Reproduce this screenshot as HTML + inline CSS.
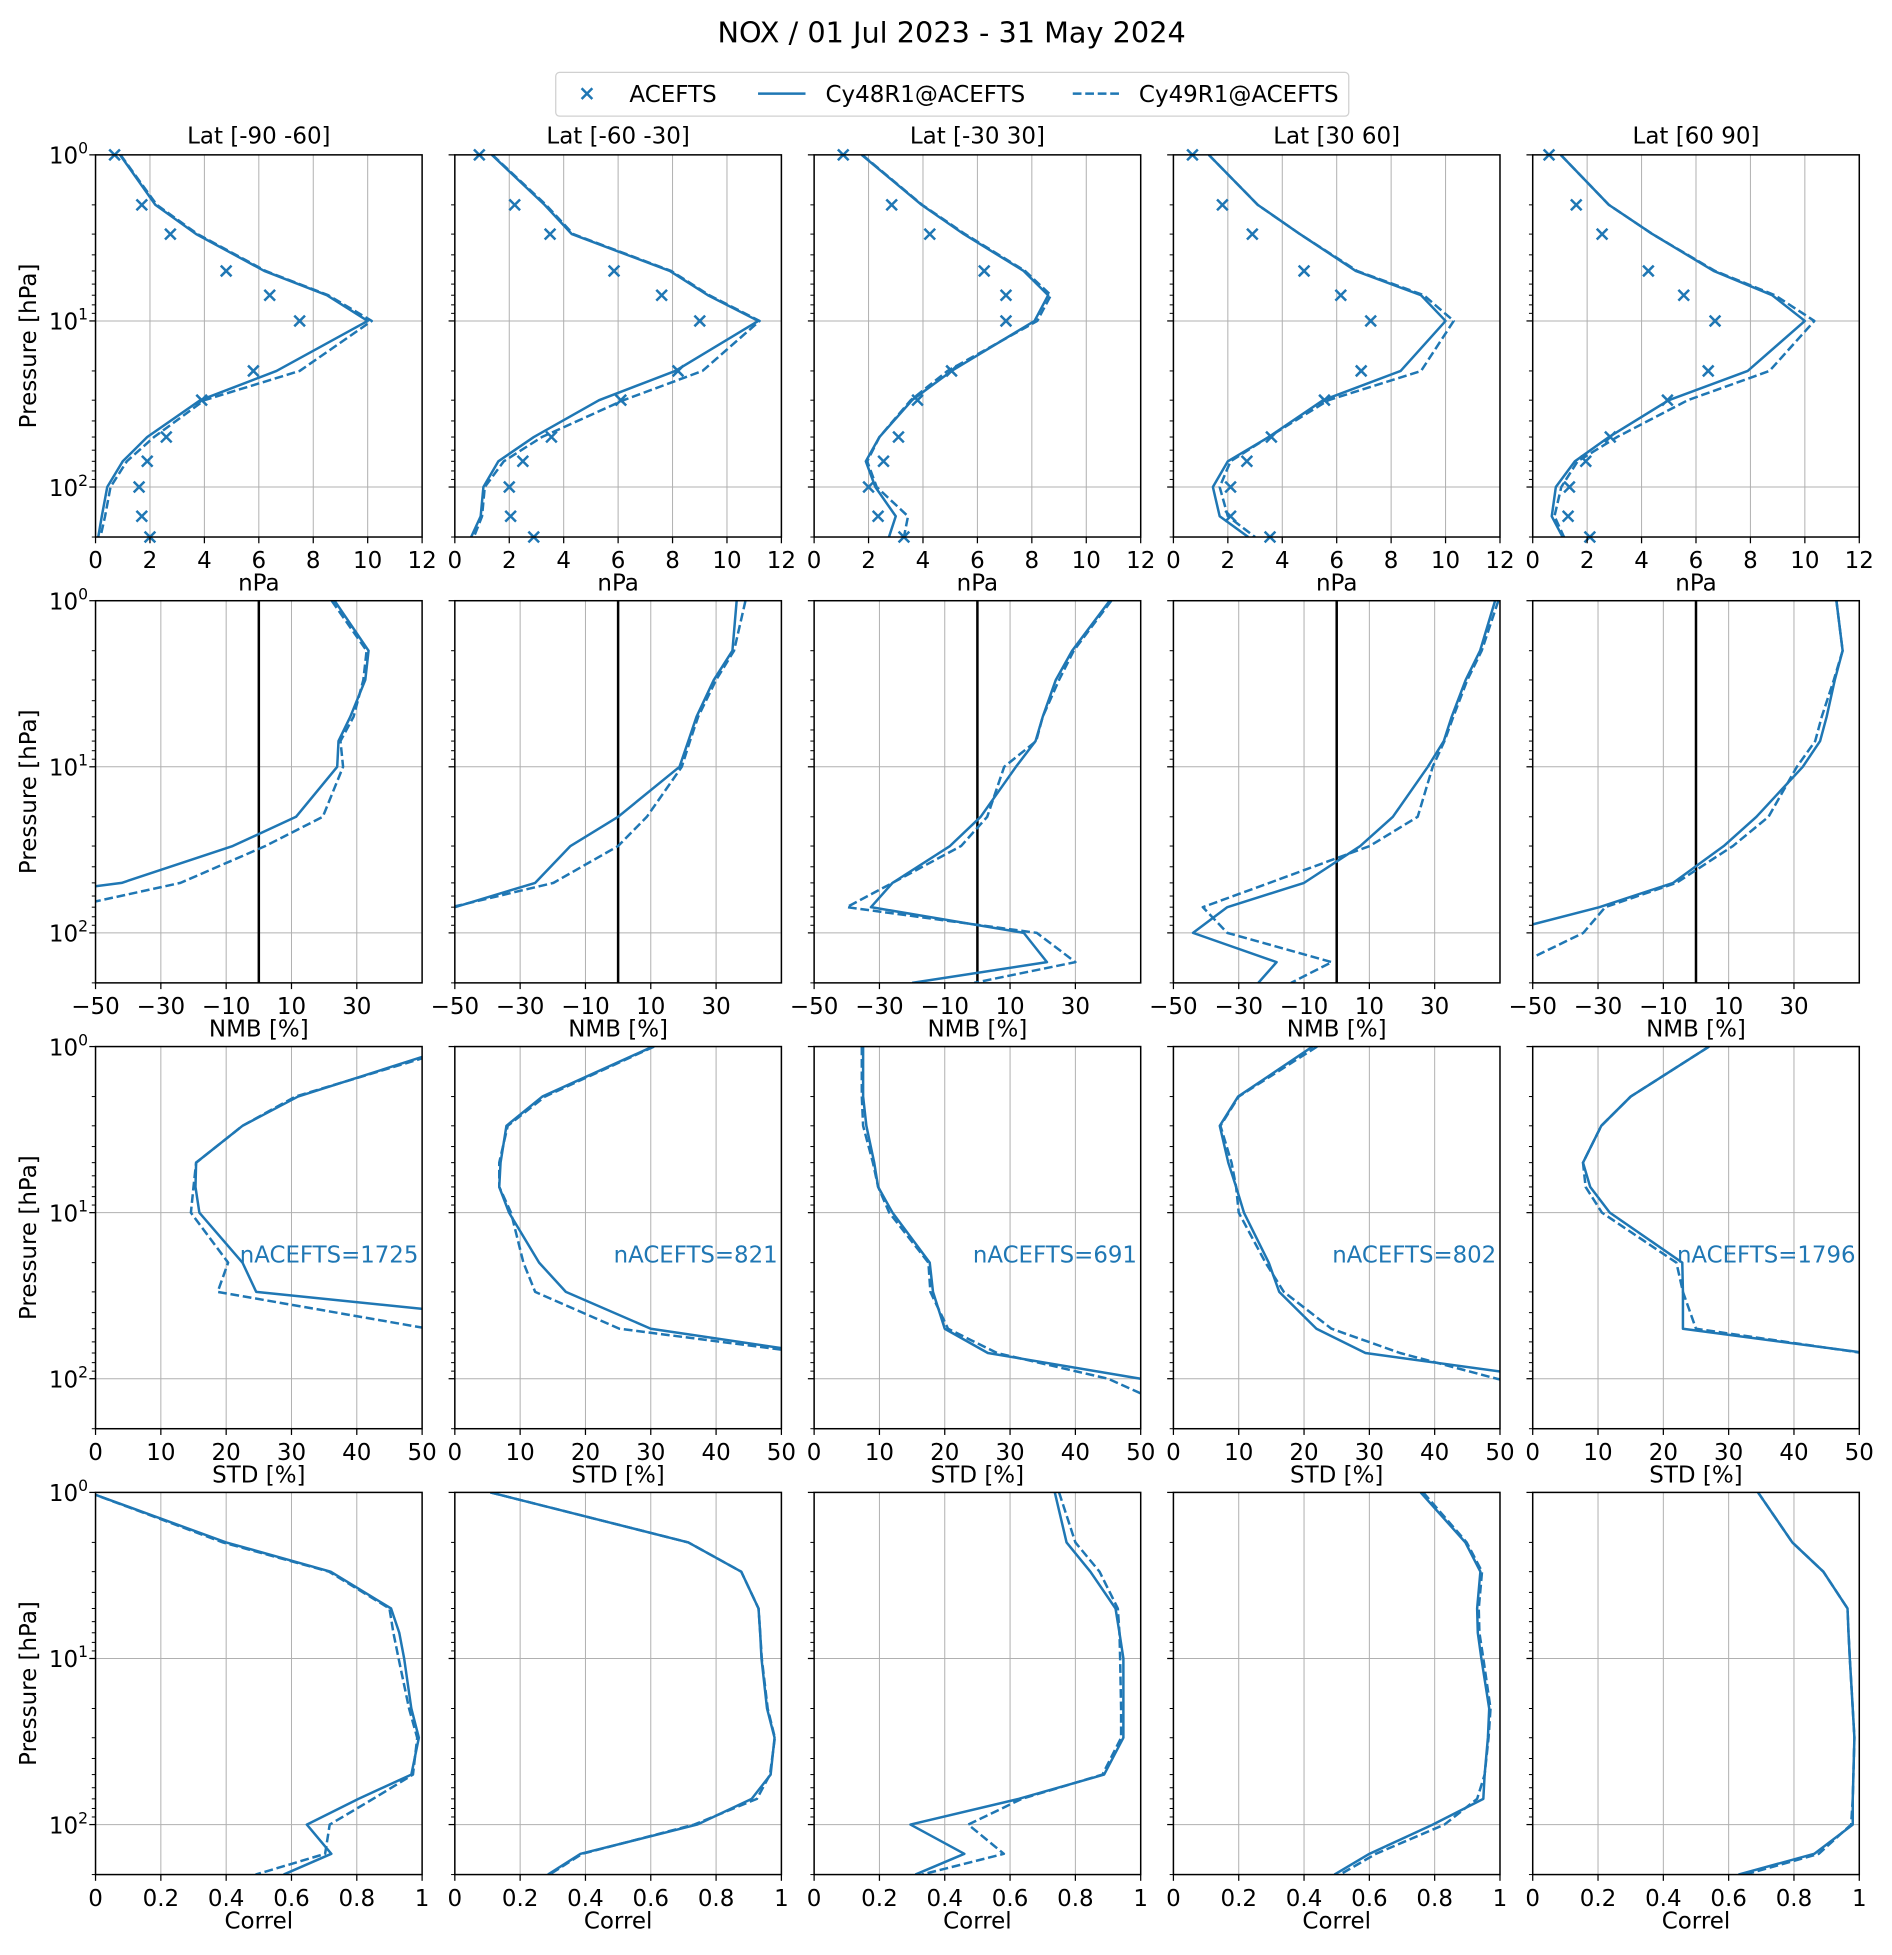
<!DOCTYPE html>
<html><head><meta charset="utf-8"><style>
html,body{margin:0;padding:0;background:#fff}
svg{display:block;font-family:"DejaVu Sans","Liberation Sans",sans-serif}
</style></head><body>
<svg id="fig" width="1892" height="1955" viewBox="0 0 1515 1565.4" preserveAspectRatio="none" xmlns="http://www.w3.org/2000/svg">
<text x="762" y="34" font-size="23" text-anchor="middle" fill="#000">NOX / 01 Jul 2023 - 31 May 2024</text>
<g>
<rect x="445" y="58" width="635" height="35" rx="3" fill="#fff" stroke="#d0d0d0" stroke-width="1"/>
<g>
<path d="M465.7,70.7L474.3,79.3M465.7,79.3L474.3,70.7" stroke="#1f77b4" stroke-width="2" fill="none"/>
<text x="504" y="81.5" font-size="18.4" fill="#000">ACEFTS</text></g>
<g>
<line x1="607" y1="75" x2="645" y2="75" stroke="#1f77b4" stroke-width="2"/>
<text x="661" y="81.5" font-size="18.4" fill="#000">Cy48R1@ACEFTS</text></g>
<g>
<line x1="859" y1="75" x2="897" y2="75" stroke="#1f77b4" stroke-width="2" stroke-dasharray="7,3"/>
<text x="912" y="81.5" font-size="18.4" fill="#000">Cy49R1@ACEFTS</text></g>
</g>
</svg>
<script>
const levels = [1,2,3,5,7,10,20,30,50,70,100,150,200];
const latLabels = ["Lat [-90 -60]","Lat [-60 -30]","Lat [-30  30]","Lat [30 60]","Lat [60 90]"];
const nCounts = ["nACEFTS=1725","nACEFTS=821","nACEFTS=691","nACEFTS=802","nACEFTS=1796"];
const xTicksConc = [0,2,4,6,8,10,12];
const xTicksNMB = [-50,-30,-10,10,30];
const xTicksSTD = [0,10,20,30,40,50];
const xTicksCor = [0,0.2,0.4,0.6,0.8,1];
const xTickLabelsCor = ["0","0.2","0.4","0.6","0.8","1"];
const xLabels = ["nPa","NMB [%]","STD [%]","Correl"];

const obsConc = [
[0.7,1.7,2.75,4.8,6.4,7.5,5.8,3.9,2.6,1.9,1.6,1.7,2.0],
[0.9,2.2,3.5,5.85,7.6,9.0,8.2,6.1,3.55,2.5,2.0,2.05,2.9],
[1.07,2.85,4.25,6.25,7.05,7.05,5.05,3.8,3.1,2.55,2.0,2.35,3.3],
[0.7,1.8,2.9,4.8,6.15,7.25,6.9,5.55,3.6,2.7,2.1,2.1,3.55],
[0.6,1.6,2.55,4.25,5.55,6.7,6.45,4.95,2.85,1.95,1.35,1.3,2.1]];
const cy48Conc = [
[0.9,2.2,3.7,6.2,8.5,10.0,6.65,3.85,1.9,1.0,0.43,0.23,0.1],
[1.36,3.3,4.3,7.9,9.3,11.15,8.1,5.3,2.9,1.6,1.05,0.95,0.6],
[1.75,3.95,5.5,7.7,8.6,8.1,5.05,3.6,2.4,1.9,2.25,3.0,2.75],
[1.3,3.1,4.65,6.7,9.1,10.0,8.35,5.5,3.5,2.0,1.45,1.7,2.75],
[1.03,2.8,4.4,6.65,8.8,10.0,7.9,5.0,2.8,1.55,0.85,0.7,1.1]];
const cy49Conc = [
[0.92,2.25,3.75,6.25,8.55,10.15,7.5,4.0,2.15,1.15,0.55,0.35,0.18],
[1.38,3.35,4.35,7.95,9.35,11.2,9.1,6.2,3.2,1.8,1.1,1.0,0.7],
[1.77,3.97,5.55,7.75,8.7,8.2,4.9,3.55,2.4,1.95,2.3,3.45,3.3],
[1.3,3.1,4.65,6.75,9.2,10.3,9.1,5.7,3.5,2.1,1.7,2.0,3.0],
[1.03,2.8,4.4,6.7,8.9,10.35,8.7,5.7,3.1,1.65,1.05,0.8,1.15]];
const cy48NMB = [
[23.2,33.6,32.6,28,24.4,24,11.4,-8,-42,-100,-120,-120,-120],
[36.3,35,29.3,24,21.5,18.8,0,-14.6,-25.4,-50,-80,-80,-80],
[40.5,29,24,20,17.8,11.8,1,-8.4,-26,-32.6,14.2,21.3,-20],
[48.5,43.9,39.5,35.2,32.8,27.9,17.2,7.2,-10,-33.5,-44,-18.4,-24],
[43,44.9,42.5,40,38,32.7,18.5,8.5,-7,-29.6,-60,-80,-80]];
const cy49NMB = [
[22.3,33,32,29,25,25.8,19.6,2,-24,-58,-120,-120,-120],
[39,35.5,30,24.5,22,19.5,8.8,0,-19.8,-51,-80,-80,-80],
[41,29.5,25,20,18,8.2,3,-5,-26,-40,18.2,30,-1],
[49.5,44.4,40,35.7,33,29.4,24.8,10.1,-20.6,-41,-33.5,-1.5,-14],
[43,44.9,42.2,38.5,36.5,30.9,22.2,11.3,-6,-27.8,-34.5,-53,-60]];
const cy48STD = [
[55,31,22.5,15.4,15.3,15.9,22.5,24.6,80,80,80,80,80],
[30.3,13.4,7.9,7.0,6.8,8.3,12.9,17,30,55,80,80,80],
[7.5,7.5,8,9.2,9.8,12,17.7,18.2,20,26.6,50,80,80],
[21.3,9.9,7.1,8.4,9.6,10.8,14.6,16.2,21.9,29.4,58,80,80],
[27,15,10.5,7.7,8.8,11.8,22.9,23,23,51,80,80,80]];
const cy49STD = [
[56,30.6,22.5,15.4,15,14.6,20.3,18.7,51,80,80,80,80],
[30.5,13.8,8.1,6.8,6.8,8.6,10.5,12.3,25.2,54,80,80,80],
[7.3,7.3,7.5,9.0,9.8,11.5,17.5,17.8,20.5,28,45,55,80],
[22,10,7.2,8.9,9.6,10,14.1,16.9,24.2,34.7,49.5,70,80],
[27,15,10.5,7.7,8.1,10.6,22,23,25,50.5,80,80,80]];
const cy48Cor = [
[-0.02,0.4,0.72,0.905,0.93,0.945,0.967,0.99,0.967,0.805,0.647,0.722,0.576],
[0.109,0.715,0.877,0.93,0.935,0.939,0.956,0.979,0.967,0.909,0.742,0.385,0.285],
[0.737,0.773,0.846,0.923,0.935,0.947,0.947,0.947,0.888,0.627,0.295,0.46,0.31],
[0.757,0.894,0.94,0.93,0.932,0.943,0.967,0.963,0.953,0.949,0.794,0.6,0.493],
[0.69,0.795,0.89,0.964,0.967,0.971,0.98,0.985,0.982,0.98,0.98,0.862,0.63]];
const cy49Cor = [
[-0.02,0.39,0.715,0.9,0.912,0.928,0.96,0.985,0.972,0.85,0.717,0.703,0.49],
[0.109,0.715,0.877,0.93,0.935,0.94,0.958,0.98,0.965,0.925,0.733,0.39,0.29],
[0.75,0.8,0.874,0.93,0.935,0.937,0.94,0.94,0.883,0.636,0.472,0.581,0.33],
[0.765,0.898,0.945,0.935,0.937,0.949,0.971,0.965,0.953,0.93,0.83,0.62,0.51],
[0.69,0.795,0.89,0.964,0.967,0.971,0.98,0.985,0.982,0.98,0.975,0.876,0.65]];

const NS = "http://www.w3.org/2000/svg";
const svg = document.getElementById('fig');
const BLUE = "#1f77b4";
const FS = 18.4;
const colLeft = [76.5,364.2,651.9,939.6,1227.3];
const rowTop = [124,481,838,1195];
const PW = 261.5, PH = 306;
const PMAX = 200;
const rows = [
 {min:0,max:12,ticks:xTicksConc,labels:xTicksConc.map(String),s48:cy48Conc,s49:cy49Conc,name:'conc'},
 {min:-50,max:50,ticks:xTicksNMB,labels:xTicksNMB.map(v=>v<0?'\u2212'+(-v):String(v)),s48:cy48NMB,s49:cy49NMB,name:'nmb'},
 {min:0,max:50,ticks:xTicksSTD,labels:xTicksSTD.map(String),s48:cy48STD,s49:cy49STD,name:'std'},
 {min:0,max:1,ticks:xTicksCor,labels:xTickLabelsCor,s48:cy48Cor,s49:cy49Cor,name:'correl'}];

function mk(tag, attrs, parent){const e=document.createElementNS(NS,tag);for(const k in attrs)e.setAttribute(k,attrs[k]);(parent||svg).appendChild(e);return e;}

rows.forEach((R,ri)=>{
 for(let ci=0;ci<5;ci++){
  const L=colLeft[ci], T=rowTop[ri];
  const xs=v=>L+(v-R.min)/(R.max-R.min)*PW;
  const ys=p=>T+Math.log10(p)/Math.log10(PMAX)*PH;
  const g=mk('g',{});
  
  
  const cid='clip'+ri+'_'+ci;
  const cp=mk('clipPath',{id:cid},g); mk('rect',{x:L,y:T,width:PW,height:PH},cp);
  R.ticks.forEach(t=>{const gl=mk('line',{x1:xs(t),x2:xs(t),y1:T,y2:T+PH,stroke:'#b0b0b0','stroke-width':0.8},g);
   });
  [1,10,100].forEach(p=>{const gl=mk('line',{x1:L,x2:L+PW,y1:ys(p),y2:ys(p),stroke:'#b0b0b0','stroke-width':0.8},g);
   });
  if(ri===1){const z=mk('line',{x1:xs(0),x2:xs(0),y1:T,y2:T+PH,stroke:'#000','stroke-width':2},g);
   }
  const series=[[R.s48[ci],null,'cy48r1-line'],[R.s49[ci],'7,3','cy49r1-line']];
  series.forEach(([vals,dash,nm])=>{
   const d=vals.map((v,i)=>(i?'L':'M')+xs(v).toFixed(2)+','+ys(levels[i]).toFixed(2)).join(' ');
   const a={d:d,fill:'none',stroke:BLUE,'stroke-width':2,'stroke-linejoin':'round','clip-path':'url(#'+cid+')'};
   if(dash)a['stroke-dasharray']=dash;
   const pth=mk('path',a,g);
   
   
  });
  if(ri===0){
   obsConc[ci].forEach((v,i)=>{const x=xs(v),y=ys(levels[i]),s=4.3;
    const m=mk('path',{d:`M${x-s},${y-s}L${x+s},${y+s}M${x-s},${y+s}L${x+s},${y-s}`,stroke:BLUE,'stroke-width':2,fill:'none'},g);
    
    });
   const tt=mk('text',{x:L+PW/2,y:T-9,'font-size':FS,'text-anchor':'middle',fill:'#000'},g);
   tt.textContent=latLabels[ci];
   
  }
  if(ri===2){const nt=mk('text',{x:L+PW-3,y:T+173,'font-size':18.3,'text-anchor':'end',fill:BLUE},g);
   nt.textContent=nCounts[ci];
   }
  const fr=mk('rect',{x:L,y:T,width:PW,height:PH,fill:'none',stroke:'#000','stroke-width':1.2},g);
  
  R.ticks.forEach((t,k)=>{mk('line',{x1:xs(t),x2:xs(t),y1:T+PH,y2:T+PH+5,stroke:'#000','stroke-width':1},g);
   const tl=mk('text',{x:xs(t),y:T+PH+25,'font-size':FS,'text-anchor':'middle',fill:'#000'},g);
   tl.textContent=R.labels[k];
   });
  const xl=mk('text',{x:L+PW/2,y:T+PH+43,'font-size':FS,'text-anchor':'middle',fill:'#000'},g);
  xl.textContent=xLabels[ri];
  
  for(let dec=0;dec<3;dec++){for(let m=1;m<10;m++){const p=m*Math.pow(10,dec); if(p>PMAX)break;
   const len=m===1?5:3; mk('line',{x1:L-len,x2:L,y1:ys(p),y2:ys(p),stroke:'#000','stroke-width':m===1?1:0.8},g);}}
  if(ci===0){
   [0,1,2].forEach(e=>{const tl=mk('text',{x:L-6,y:ys(Math.pow(10,e))+7,'font-size':FS,'text-anchor':'end',fill:'#000'},g);
    
    tl.appendChild(document.createTextNode('10'));
    const sp=mk('tspan',{'font-size':12.5,dy:-8},tl); sp.textContent=String(e);});
   const yl=mk('text',{x:0,y:0,'font-size':FS,'text-anchor':'middle',fill:'#000',transform:`translate(29,${T+PH/2}) rotate(-90)`},g);
   yl.textContent='Pressure [hPa]';
   
  }
 }
});
</script>
</body></html>
